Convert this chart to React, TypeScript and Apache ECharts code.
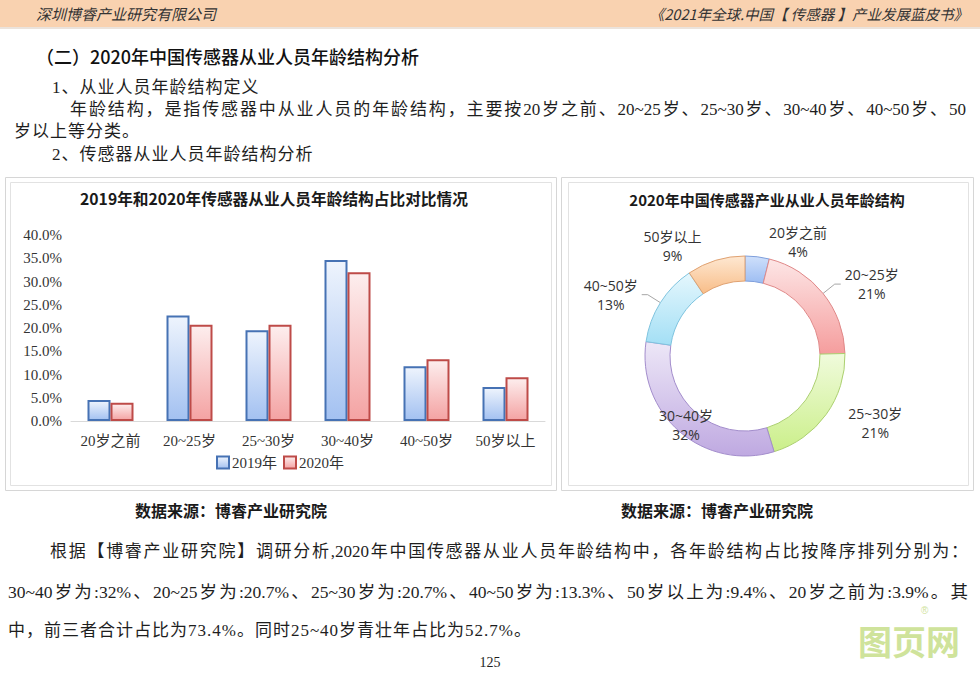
import React, { useEffect, useRef } from 'react';
import * as echarts from 'echarts';

// ---------- data ----------
const categories = ['20岁之前', '20~25岁', '25~30岁', '30~40岁', '40~50岁', '50岁以上'];
const share2019 = [4.5, 22.7, 19.5, 34.6, 11.8, 7.3];
const share2020 = [3.9, 20.7, 20.7, 32.0, 13.3, 9.4];
const seriesNames = ['2019年', '2020年'];
const yMin = 0;
const yMax = 40;
const yStep = 5;
const barTitle = '2019年和2020年传感器从业人员年龄结构占比对比情况';
const pieTitle = '2020年中国传感器产业从业人员年龄结构';
const sourceText = '数据来源：博睿产业研究院';

// ---------- styles ----------
const serif = '"Liberation Serif","DejaVu Serif","Noto Sans CJK SC",serif';
const sans = '"Noto Sans CJK SC","Noto Sans",sans-serif';
const pieSans = '"Open Sans","Noto Sans CJK SC",sans-serif';

const grad = (top: string, bottom: string) =>
  new echarts.graphic.LinearGradient(0, 0, 0, 1, [
    { offset: 0, color: top },
    { offset: 1, color: bottom },
  ]);

const pieStyles = [
  { top: '#cfe0fb', bottom: '#9dbdf2', border: '#7f9fdc' },
  { top: '#fde6e6', bottom: '#f59d9d', border: '#e08888' },
  { top: '#f0fbdc', bottom: '#cbef8a', border: '#acd070' },
  { top: '#ede7f7', bottom: '#bfa9e1', border: '#a38dcc' },
  { top: '#e5f7fd', bottom: '#a3dff5', border: '#7fc4df' },
  { top: '#fee8d2', bottom: '#f8bd88', border: '#e0a272' },
];
const insideLabelIndex = 3;
const linedLabelIndexes = [1, 4];

function buildOption(): echarts.EChartsCoreOption {
  const pieData = categories.map((name, i) => ({
    name,
    value: share2020[i],
    itemStyle: {
      color: grad(pieStyles[i].top, pieStyles[i].bottom),
      borderColor: pieStyles[i].border,
      borderWidth: 1,
    },
    label: i === insideLabelIndex ? { position: 'inside' } : undefined,
    labelLine: { show: linedLabelIndexes.includes(i) },
  }));

  return {
    animation: false,
    backgroundColor: 'transparent',
    title: [
      {
        text: barTitle,
        left: 274,
        top: 191,
        padding: 0,
        textAlign: 'center',
        textStyle: { fontFamily: sans, fontSize: 15.7, fontWeight: 'bold', color: '#1a1a1a' },
      },
      {
        text: pieTitle,
        left: 767,
        top: 192,
        padding: 0,
        textAlign: 'center',
        textStyle: { fontFamily: sans, fontSize: 15, fontWeight: 'bold', color: '#1a1a1a' },
      },
    ],
    legend: {
      data: seriesNames,
      left: 216,
      top: 455,
      padding: 0,
      icon: 'rect',
      itemWidth: 12,
      itemHeight: 12,
      itemGap: 6,
      textStyle: { fontFamily: serif, fontSize: 15, color: '#333', padding: [0, 0, 0, -2] },
    },
    grid: { left: 71, top: 235, width: 474, height: 186 },
    xAxis: {
      type: 'category',
      data: categories,
      axisLine: { lineStyle: { color: '#d9d9d9', width: 1 } },
      axisTick: { show: false },
      axisLabel: { fontFamily: serif, fontSize: 15, color: '#333', margin: 12 },
    },
    yAxis: {
      type: 'value',
      min: yMin,
      max: yMax,
      interval: yStep,
      axisLine: { show: false },
      axisTick: { show: false },
      splitLine: { show: false },
      axisLabel: {
        fontFamily: serif,
        fontSize: 15,
        color: '#333',
        margin: 9,
        formatter: (v: number) => `${v.toFixed(1)}%`,
      },
    },
    series: [
      {
        type: 'bar',
        name: seriesNames[0],
        data: share2019,
        barWidth: 23,
        barGap: '0%',
        silent: true,
        itemStyle: {
          color: grad('#eef4fd', '#a3c1f1'),
          borderColor: '#4672b4',
          borderWidth: 2,
        },
      },
      {
        type: 'bar',
        name: seriesNames[1],
        data: share2020,
        barWidth: 23,
        barGap: '0%',
        silent: true,
        itemStyle: {
          color: grad('#fdeeee', '#f4a3a3'),
          borderColor: '#be4b48',
          borderWidth: 2,
        },
      },
      {
        type: 'pie',
        center: [745, 356],
        radius: [75, 100],
        startAngle: 90,
        clockwise: true,
        avoidLabelOverlap: false,
        silent: true,
        data: pieData,
        label: {
          show: true,
          position: 'outside',
          distanceToLabelLine: 4,
          formatter: (p: any) => `{n|${p.name}}\n{v|${Math.round(p.percent)}%}`,
          rich: {
            n: { fontFamily: pieSans, fontSize: 14, color: '#333', align: 'center', lineHeight: 19 },
            v: { fontFamily: pieSans, fontSize: 14, color: '#333', align: 'center', lineHeight: 19 },
          },
        },
        labelLine: {
          length: 15,
          length2: 6,
          lineStyle: { color: '#a6a6a6', width: 1 },
        },
      },
    ],
    graphic: [
      { type: 'rect', shape: { x: 5.5, y: 177.5, width: 551, height: 313 }, style: { fill: 'none', stroke: '#d6d6d6', lineWidth: 1 }, silent: true },
      { type: 'rect', shape: { x: 10.5, y: 182.5, width: 541, height: 303 }, style: { fill: 'none', stroke: '#e2e2e2', lineWidth: 1 }, silent: true },
      { type: 'rect', shape: { x: 561.5, y: 177.5, width: 412, height: 313 }, style: { fill: 'none', stroke: '#d6d6d6', lineWidth: 1 }, silent: true },
      { type: 'rect', shape: { x: 568.5, y: 182.5, width: 400, height: 303 }, style: { fill: 'none', stroke: '#e2e2e2', lineWidth: 1 }, silent: true },
      {
        type: 'text',
        x: 231,
        y: 510,
        style: { text: sourceText, fontFamily: sans, fontSize: 16, fontWeight: 'bold', fill: '#1a1a1a', align: 'center', verticalAlign: 'middle' },
        silent: true,
      },
      {
        type: 'text',
        x: 717,
        y: 510,
        style: { text: sourceText, fontFamily: sans, fontSize: 16, fontWeight: 'bold', fill: '#1a1a1a', align: 'center', verticalAlign: 'middle' },
        silent: true,
      },
    ],
  };
}

type TProps = {
  x: number;
  y: number;
  w?: number;
  size: number;
  family?: string;
  spacing?: number;
  justify?: boolean;
  style?: React.CSSProperties;
  children: React.ReactNode;
};

function T({ x, y, w, size, family = serif, spacing = 0, justify = false, style, children }: TProps) {
  const lh = Math.round(size * 1.3);
  return (
    <div
      style={{
        position: 'absolute',
        left: x,
        top: y - lh / 2,
        width: w,
        fontSize: size,
        lineHeight: `${lh}px`,
        fontFamily: family,
        letterSpacing: spacing,
        color: '#1e1e1e',
        whiteSpace: justify ? 'normal' : 'nowrap',
        textAlign: justify ? 'justify' : 'left',
        textAlignLast: justify ? 'justify' : undefined,
        ...style,
      } as React.CSSProperties}
    >
      {children}
    </div>
  );
}

export default function App() {
  const ref = useRef<HTMLDivElement>(null);
  useEffect(() => {
    if (!ref.current) return;
    const chart = echarts.init(ref.current, null, { renderer: 'svg' });
    chart.setOption(buildOption());
    return () => chart.dispose();
  }, []);

  return (
    <div style={{ position: 'absolute', left: 0, top: 0, width: 980, height: 673, overflow: 'hidden', background: '#fff' }}>
      <div style={{ position: 'absolute', left: 0, top: 0, width: 980, height: 27, background: '#f9d2b0' }} />
      <div style={{ position: 'absolute', left: 0, top: 27, width: 980, height: 2, background: '#ebe3dc' }} />
      <div ref={ref} style={{ position: 'absolute', left: 0, top: 0, width: 980, height: 673 }} />

      <T x={36} y={14} size={15} family={sans} style={{ fontStyle: 'italic', color: '#333' }}>
        深圳博睿产业研究有限公司
      </T>
      <div
        style={{
          position: 'absolute',
          right: 12,
          top: 4,
          fontSize: 14.5,
          lineHeight: '20px',
          fontFamily: sans,
          fontStyle: 'italic',
          color: '#333',
          whiteSpace: 'nowrap',
        }}
      >
        《2021年全球.中国【 传感器 】产业发展蓝皮书》
      </div>

      <T x={36} y={56} size={18} family={sans} style={{ fontWeight: 500, color: '#111' }}>
        （二）2020年中国传感器从业人员年龄结构分析
      </T>
      <T x={52} y={88} size={17} spacing={1}>
        1、从业人员年龄结构定义
      </T>
      <T x={70} y={110} w={896} size={17} justify>
        年龄结构，是指传感器中从业人员的年龄结构，主要按20岁之前、20~25岁、25~30岁、30~40岁、40~50岁、50
      </T>
      <T x={14} y={132} size={17} spacing={1}>
        岁以上等分类。
      </T>
      <T x={52} y={155} size={17} spacing={1}>
        2、传感器从业人员年龄结构分析
      </T>

      <T x={50} y={552} w={918} size={17} justify>
        根据【博睿产业研究院】调研分析,2020年中国传感器从业人员年龄结构中，各年龄结构占比按降序排列分别为：
      </T>
      <T x={8} y={592} w={960} size={17.5} justify>
        30~40岁为:32%、20~25岁为:20.7%、25~30岁为:20.7%、40~50岁为:13.3%、50岁以上为:9.4%、20岁之前为:3.9%。其
      </T>
      <T x={8} y={631} size={17} spacing={1}>
        中，前三者合计占比为73.4%。同时25~40岁青壮年占比为52.7%。
      </T>
      <div
        style={{
          position: 'absolute',
          left: 0,
          width: 980,
          top: 654,
          textAlign: 'center',
          fontSize: 14,
          lineHeight: '18px',
          fontFamily: serif,
          color: '#1e1e1e',
        }}
      >
        125
      </div>

      <div
        style={{
          position: 'absolute',
          left: 858,
          top: 624,
          fontSize: 34,
          lineHeight: '34px',
          fontFamily: sans,
          fontWeight: 'bold',
          color: '#cfe39b',
          whiteSpace: 'nowrap',
        }}
      >
        图页网
      </div>
      <div
        style={{
          position: 'absolute',
          left: 921,
          top: 606,
          fontSize: 10,
          lineHeight: '10px',
          fontFamily: '"Liberation Sans",sans-serif',
          color: '#cfe39b',
        }}
      >
        ®
      </div>
    </div>
  );
}
